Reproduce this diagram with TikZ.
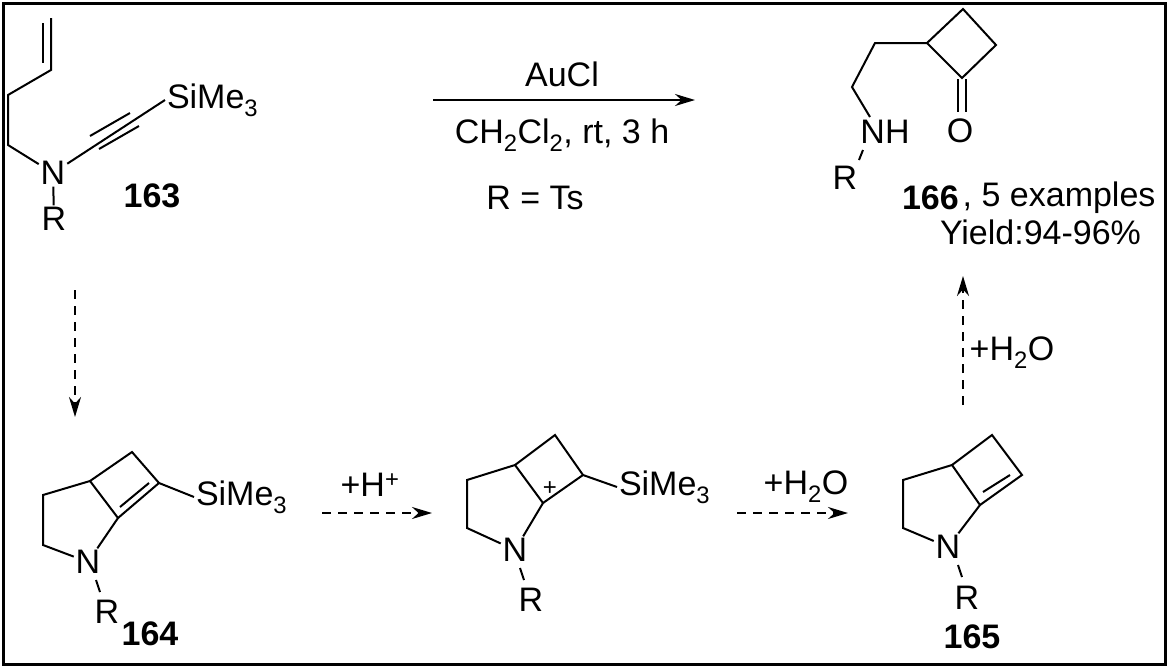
\documentclass[tikz,border=0pt]{standalone}
\usepackage{fontspec}
\setmainfont{Liberation Sans}
\usetikzlibrary{arrows.meta}
\begin{document}
\begin{tikzpicture}[x=1pt,y=-1pt,line width=2pt,
  lbl/.style={font=\fontsize{34}{36}\selectfont,inner sep=1pt},
  bnum/.style={font=\fontsize{34}{36}\selectfont\bfseries,inner sep=1pt},
  bond/.style={line width=2pt},
  rx/.style={line width=2pt,-{Stealth[length=20pt,width=12pt]}},
  drx/.style={rx,dash pattern=on 9pt off 7pt}]
\useasboundingbox (0,0) rectangle (1168,667);
\draw[line width=3pt] (3,3) rectangle (1165,664);
% 163
\node[lbl] (n163) at (53,173) {N};
\node[lbl] (r163) at (54,219) {R};
\node[lbl,anchor=west] (si163) at (165,100) {SiMe\textsubscript{3}};
\node[bnum] (l163) at (152,196) {163};
\draw[bond] (51,18) -- (51,70) -- (8,95) -- (8,145) -- (n163);
\draw[bond] (43,23) -- (43,63);
\draw[bond] (n163) -- (r163);
\draw[bond] (n163) -- (si163.west);
\draw[bond] (90,136) -- (130,113);
\draw[bond] (99,149) -- (139,126);
% top arrow
\coordinate (a1) at (433,100); \coordinate (a2) at (695,100);
\draw[rx] (a1) -- (a2);
\node[lbl] (auc) at (562,74) {AuCl};
\node[lbl] (cond) at (562,135) {CH\textsubscript{2}Cl\textsubscript{2}, rt, 3 h};
\node[lbl] (rts) at (535,198) {R = Ts};
% 166
\node[lbl] (nh) at (885,132) {NH};
\node[lbl] (o166) at (960,131) {O};
\node[lbl] (r166) at (845,178) {R};
\draw[bond] (870,117) -- (852,87) -- (875,43) -- (927,43);
\draw[bond] (927,43) -- (963,9) -- (996,45) -- (962,78) -- cycle;
\draw[bond] (958,79) -- (958,112);
\draw[bond] (966,79) -- (966,112);
\draw[bond] (863,150) -- (859,160);
\node[bnum,anchor=west] (l166) at (900,198) {166};
\node[lbl,anchor=west] (ex) at (l166.east) {, 5 examples};
\node[lbl,anchor=east] (yld) at (1143,232) {Yield:94-96\%};
% vertical arrows
\coordinate (v1) at (75,290); \coordinate (v2) at (75,417);
\draw[drx] (v1) -- (v2);
\coordinate (u1) at (963,405); \coordinate (u2) at (963,276);
\draw[drx] (u1) -- (u2);
\node[lbl] (h2o1) at (1012,353) {+H\textsubscript{2}O};
% 164
\node[lbl] (n164) at (88,562) {N};
\node[lbl] (r164) at (107,612) {R};
\node[bnum] (l164) at (150,634) {164};
\node[lbl,anchor=west] (si164) at (194,497) {SiMe\textsubscript{3}};
\draw[bond] (n164) -- (43,545) -- (43,495) -- (90,481) -- (118,518) -- (n164);
\draw[bond] (90,481) -- (132,452) -- (159,483) -- (118,518);
\draw[bond] (120,507) -- (149,483);
\draw[bond] (159,483) -- (si164.west);
\draw[bond] (96,580) -- (100,592);
% +H+ arrow
\coordinate (b1) at (322,513); \coordinate (b2) at (432,513);
\draw[drx] (b1) -- (b2);
\node[lbl] (hp) at (370,485) {+H\textsuperscript{+}};
% intermediate
\node[lbl] (nint) at (515,550) {N};
\node[lbl] (rint) at (531,600) {R};
\node[lbl,anchor=west] (siint) at (617,487) {SiMe\textsubscript{3}};
\node[font=\fontsize{24}{26}\selectfont,inner sep=0pt] (plus) at (550,489) {+};
\draw[bond] (nint) -- (467,528) -- (467,480) -- (515,465) -- (543,503) -- (nint);
\draw[bond] (515,465) -- (555,435) -- (583,475) -- (543,503);
\draw[bond] (583,475) -- (siint.west);
\draw[bond] (520,568) -- (524,580);
% +H2O arrow
\coordinate (c1) at (737,513); \coordinate (c2) at (848,513);
\draw[drx] (c1) -- (c2);
\node[lbl] (h2o2) at (806,487) {+H\textsubscript{2}O};
% 165
\node[lbl] (n165) at (948,547) {N};
\node[lbl] (r165) at (967,598) {R};
\node[bnum] (l165) at (972,637) {165};
\draw[bond] (n165) -- (903,528) -- (903,480) -- (952,465) -- (980,505) -- (n165);
\draw[bond] (952,465) -- (992,435) -- (1022,475) -- (980,505);
\draw[bond] (983,492) -- (1010,475);
\draw[bond] (958,565) -- (962,577);
\end{tikzpicture}
\end{document}
